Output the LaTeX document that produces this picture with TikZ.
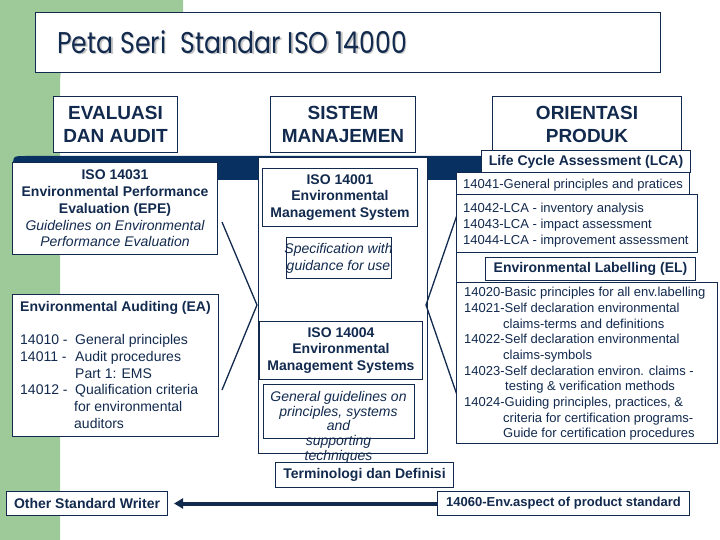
\documentclass[tikz,border=0pt]{standalone}
\usepackage{fontspec}
\usepackage{graphicx}
\setmainfont{Liberation Sans}
\newfontfamily\ttlfont{Poppins}
\usetikzlibrary{arrows.meta}

\definecolor{ink}{RGB}{18,42,78}
\definecolor{band}{RGB}{8,48,96}
\definecolor{sage}{RGB}{157,202,152}

\newcommand{\gi}[1]{{\mdseries\itshape #1}}
\newcommand{\ttltext}{\scalebox{.84}[1]{Peta Seri\hspace{.3em} Standar ISO 14000}}

\tikzset{
  box/.style={draw=ink, fill=white, line width=1pt, text=ink, inner sep=0pt, anchor=north west},
  hd/.style={font=\bfseries\fontsize{19}{23}\selectfont, align=center},
  bld/.style={font=\bfseries\fontsize{14}{16.7}\selectfont, align=center},
  txt/.style={text=ink, inner sep=0pt, anchor=north west, align=left, font=\fontsize{13}{15.7}\selectfont},
  itx/.style={text=ink, inner sep=0pt, anchor=north, align=center, font=\itshape\fontsize{14}{17}\selectfont},
  ttlf/.style={anchor=west, inner sep=0pt, font=\ttlfont\fontsize{30}{32}\selectfont},
}

\begin{document}
\begin{tikzpicture}[x=1pt, y=-1pt]
  \useasboundingbox (0,0) rectangle (720,540);
  \fill[white] (0,0) rectangle (720,540);
  % green background and dark band
  \fill[sage] (0,0) -- (183,0) -- (183,65) -- (85,65) .. controls (60,65) .. (60,90) -- (60,540) -- (0,540) -- cycle;
  \fill[band] (13,180) -- (13,168) .. controls (13,156) .. (25,156) -- (485,156) -- (485,180) -- cycle;

  % title
  \node[box, minimum width=625pt, minimum height=60pt] (ttlbox) at (35,12) {};
  \node[ttlf, text=gray!45] (ttlsh) at (58.5,43.5) {\ttltext};
  \node[ttlf, text=ink] (ttl) at (57,42) {\ttltext};

  % column heads
  \node[box, hd, minimum width=124pt, minimum height=56pt] (evalhd) at (53,96) {EVALUASI\\DAN AUDIT};
  \node[box, hd, minimum width=145pt, minimum height=56pt] (sishd) at (270,96) {SISTEM\\MANAJEMEN};
  \node[box, hd, minimum width=189pt, minimum height=56pt] (orihd) at (492,96) {ORIENTASI\\PRODUK};

  % evaluasi dan audit
  \node[box, bld, minimum width=205pt, minimum height=92pt] (iso31) at (12,162)
    {ISO 14031\\Environmental Performance\\Evaluation (EPE)\\\gi{Guidelines on Environmental}\\\gi{Performance Evaluation}};
  \node[box, minimum width=206pt, minimum height=142pt] (eaud) at (12,294) {};
  \node[txt, font=\fontsize{14}{16.7}\selectfont] (eaudt) at (20,301)
    {\textbf{Environmental Auditing (EA)}\\[16.7pt]
     \makebox[55pt][l]{14010 -}General principles\\
     \makebox[55pt][l]{14011 -}Audit procedures\\
     \hspace*{55pt}Part 1: EMS\\
     \makebox[55pt][l]{14012 -}Qualification criteria\\
     \hspace*{54pt}for environmental\\
     \hspace*{54pt}auditors};
  \node[box, bld, minimum width=161pt, minimum height=24pt] (osw) at (6,491) {Other Standard Writer};

  % sistem manajemen
  \node[box, minimum width=169pt, minimum height=296pt] (siscol) at (258,157) {};
  \node[box, bld, minimum width=155pt, minimum height=58pt] (iso01) at (262,168)
    {ISO 14001\\Environmental\\Management System};
  \node[box, minimum width=105pt, minimum height=41pt] (spec01) at (286,237) {};
  \node[itx] (spec01t) at (338.5,243) {Specification with\\guidance for use};
  \node[box, bld, minimum width=163pt, minimum height=58pt] (iso04) at (259,321)
    {ISO 14004\\Environmental\\Management Systems};
  \node[box, minimum width=151pt, minimum height=54pt] (gen04) at (263,384) {};
  \node[itx, font=\itshape\fontsize{14}{14.8}\selectfont] (gen04t) at (338.5,391)
    {General guidelines on\\principles, systems\\and\\supporting\\techniques};
  \node[box, bld, minimum width=178pt, minimum height=25pt] (term) at (275,462) {Terminologi dan Definisi};

  % brackets
  \coordinate (lt) at (222,222);
  \coordinate (la) at (257,305);
  \coordinate (lb) at (222,390);
  \coordinate (rt) at (457,215);
  \coordinate (ra) at (426,305);
  \coordinate (rb) at (457,395);
  \draw[ink, line width=1.3pt] (lt) -- (la) -- (lb);
  \draw[ink, line width=1.3pt] (rt) -- (ra) -- (rb);

  % orientasi produk
  \node[box, bld, minimum width=209pt, minimum height=22pt] (lcahd) at (481,150) {Life Cycle Assessment (LCA)};
  \node[box, minimum width=233pt, minimum height=22pt] (lca41) at (456,172) {};
  \node[txt, anchor=west] (lca41t) at (463,185) {14041-General principles and pratices};
  \node[box, minimum width=241pt, minimum height=58pt] (lca42) at (456,194) {};
  \node[txt] (lca42t) at (463,203)
    {14042-LCA - inventory analysis\\14043-LCA - impact assessment\\14044-LCA - improvement assessment};
  \node[box, bld, minimum width=210pt, minimum height=23pt] (elhd) at (485,257) {Environmental Labelling (EL)};
  \node[box, minimum width=261pt, minimum height=161pt] (elbox) at (456,282) {};
  \draw[ink, line width=1pt] (lca42.south west) -- (elbox.north west);
  \node[txt] (elboxt) at (464,287)
    {14020-Basic principles for all env.labelling\\
     14021-Self declaration environmental\\
     \hspace*{39pt}claims-terms and definitions\\
     14022-Self declaration environmental\\
     \hspace*{39pt}claims-symbols\\
     14023-Self declaration environ. claims -\\
     \hspace*{41pt}testing \& verification methods\\
     14024-Guiding principles, practices, \&\\
     \hspace*{39pt}criteria for certification programs-\\
     \hspace*{39pt}Guide for certification procedures};
  \node[box, bld, font=\bfseries\fontsize{13}{16}\selectfont, minimum width=252pt, minimum height=24pt] (iso60) at (437,491) {14060-Env.aspect of product standard};

  \draw[ink, line width=4pt, -{Triangle[length=9pt, width=10pt]}, shorten >=6pt] (iso60.west) -- (osw.east);
\end{tikzpicture}
\end{document}
